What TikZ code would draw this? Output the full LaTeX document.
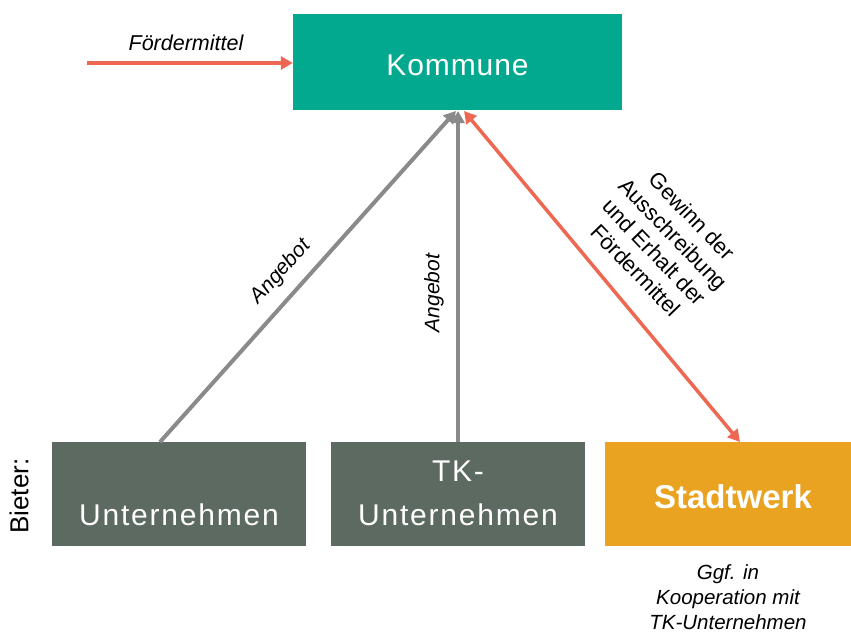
\documentclass[tikz,border=0pt]{standalone}
\usepackage{fontspec}
\setmainfont{Liberation Sans}
\usetikzlibrary{arrows.meta}
\definecolor{teal}{HTML}{02A98F}
\definecolor{boxgray}{HTML}{5D6A62}
\definecolor{orangec}{HTML}{E9A321}
\definecolor{redc}{HTML}{EE6752}
\definecolor{linegray}{HTML}{8A8A8A}
\tikzset{
  box/.style={draw=none, inner sep=0pt, minimum width=254pt, minimum height=104pt},
  boxtext/.style={text=white, font=\fontsize{30}{44}\selectfont\addfontfeature{LetterSpace=6}, align=center, inner sep=0pt},
  lbl/.style={font=\fontsize{21}{26}\selectfont\itshape, inner sep=0pt},
  rlbl/.style={font=\fontsize{22}{26}\selectfont, inner sep=0pt, align=center},
  tip/.style={-{Triangle[length=12pt,width=13pt]}},
  grayarr/.style={draw=linegray, line width=4pt, tip},
  redarr/.style={draw=redc, line width=3.5pt},
}
\begin{document}
\begin{tikzpicture}[x=1pt,y=-1pt]
\useasboundingbox (0,0) rectangle (851,633);
\node[box, fill=teal, minimum width=329pt, minimum height=96pt] (k) at (457.5,62) {};
\node[boxtext, font=\fontsize{30}{36}\selectfont\addfontfeature{LetterSpace=3}] (kt) at (457.5,65) {Kommune};

\node[box, fill=boxgray] (u) at (179,494) {};
\node[boxtext] (ut) at (179,515) {Unternehmen};
\node[box, fill=boxgray] (tk) at (458,494) {};
\node[boxtext] (tkt) at (458,493) {TK-\\Unternehmen};
\node[box, fill=orangec, minimum width=246pt] (s) at (728,494) {};
\node[boxtext, font=\fontsize{33}{36}\selectfont\bfseries] (st) at (733,497) {Stadtwerk};

\node[rlbl, rotate=90, font=\fontsize{26}{30}\selectfont] (bieter) at (19,496) {Bieter:};

\coordinate (fstart) at (87,63);
\draw[redarr, tip] (fstart) -- (k.west |- fstart);
\node[lbl, font=\fontsize{21.5}{26}\selectfont\itshape] (flbl) at (186,43) {Fördermittel};

\coordinate (u1) at (160,442);
\coordinate (k1) at (456,111);
\draw[grayarr] (u1) -- (k1);
\coordinate (t1) at (458,442);
\coordinate (k2) at (458,111);
\draw[grayarr] (t1) -- (k2);
\coordinate (k3) at (464,111);
\coordinate (s1) at (740,442);
\draw[redarr, {Triangle[length=12pt,width=13pt]}-{Triangle[length=12pt,width=13pt]}] (k3) -- (s1);

\node[lbl, font=\fontsize{21}{26}\selectfont\itshape, rotate=48] (a1) at (281,272) {Angebot};
\node[lbl, font=\fontsize{21}{26}\selectfont\itshape, rotate=90] (a2) at (434,293) {Angebot};
\node[rlbl, rotate=-46] (g) at (664,243) {Gewinn der\\Ausschreibung\\und Erhalt der\\Fördermittel};
\node[lbl, align=center, font=\fontsize{20.5}{25}\selectfont\itshape] (cap) at (728,597) {Ggf. in\\Kooperation mit\\TK-Unternehmen};
\end{tikzpicture}
\end{document}
